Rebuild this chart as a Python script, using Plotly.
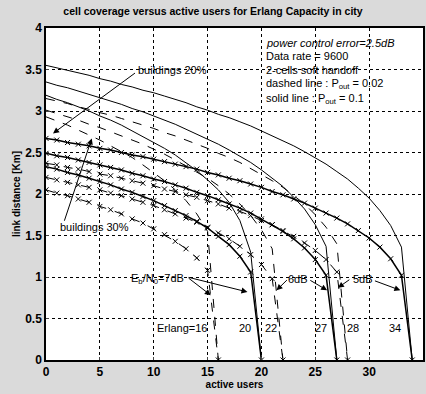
import plotly.graph_objects as go

# active users (x) for each curve family
users_34 = [0,1,2,3,4,5,6,7,8,9,10,11,12,13,14,15,16,17,18,19,20,21,22,23,24,25,26,27,28,29,30,31,32,33,34]
users_27 = [0,1,2,3,4,5,6,7,8,9,10,11,12,13,14,15,16,17,18,19,20,21,22,23,24,25,26,27]
users_20 = [0,1,2,3,4,5,6,7,8,9,10,11,12,13,14,15,16,17,18,19,20]
users_28 = [0,1,2,3,4,5,6,7,8,9,10,11,12,13,14,15,16,17,18,19,20,21,22,23,24,25,26,27,28]
users_22 = [0,1,2,3,4,5,6,7,8,9,10,11,12,13,14,15,16,17,18,19,20,21,22]
users_16 = [0,1,2,3,4,5,6,7,8,9,10,11,12,13,14,15,16]

# buildings 20% (no markers)
b20_solid_5dB = [3.55,3.52,3.49,3.46,3.43,3.39,3.36,3.32,3.29,3.25,3.22,3.18,3.14,3.10,3.05,3.01,2.96,2.92,2.87,2.82,2.76,2.70,2.64,2.58,2.51,2.44,2.36,2.27,2.18,2.07,1.95,1.80,1.62,1.36,0]
b20_solid_6dB = [3.35,3.31,3.28,3.24,3.20,3.16,3.12,3.08,3.03,2.99,2.94,2.89,2.84,2.78,2.72,2.66,2.60,2.53,2.46,2.38,2.29,2.19,2.09,1.96,1.82,1.63,1.37,0]
b20_solid_7dB = [3.19,3.14,3.10,3.05,3.00,2.94,2.89,2.83,2.76,2.70,2.63,2.55,2.47,2.38,2.28,2.17,2.05,1.90,1.68,1.30,0]
b20_dash_5dB = [3.15,3.12,3.09,3.05,3.02,2.98,2.95,2.91,2.87,2.83,2.79,2.74,2.70,2.65,2.60,2.55,2.49,2.44,2.38,2.31,2.24,2.16,2.08,1.98,1.88,1.75,1.60,1.40,0]
b20_dash_6dB = [3.01,2.97,2.93,2.89,2.84,2.80,2.75,2.70,2.65,2.60,2.54,2.48,2.41,2.34,2.27,2.19,2.10,2.00,1.88,1.74,1.57,1.34,0]
b20_dash_7dB = [2.93,2.88,2.83,2.77,2.71,2.65,2.58,2.51,2.44,2.35,2.26,2.16,2.05,1.92,1.76,1.55,0]

# buildings 30% (x markers)
b30_solid_5dB = [2.67,2.65,2.62,2.60,2.58,2.55,2.53,2.50,2.47,2.45,2.42,2.39,2.36,2.33,2.30,2.26,2.23,2.19,2.16,2.12,2.08,2.03,1.99,1.94,1.89,1.83,1.77,1.71,1.64,1.56,1.47,1.36,1.22,1.02,0]
b30_solid_6dB = [2.49,2.46,2.44,2.41,2.38,2.35,2.32,2.29,2.25,2.22,2.18,2.15,2.11,2.07,2.02,1.98,1.93,1.88,1.83,1.77,1.70,1.63,1.55,1.46,1.35,1.21,1.02,0]
b30_solid_7dB = [2.33,2.30,2.26,2.23,2.19,2.15,2.11,2.06,2.02,1.97,1.92,1.86,1.80,1.74,1.67,1.59,1.49,1.39,1.25,1.06,0]
b30_dash_5dB = [2.37,2.35,2.32,2.30,2.27,2.24,2.22,2.19,2.16,2.13,2.10,2.06,2.03,1.99,1.96,1.92,1.88,1.83,1.79,1.74,1.68,1.63,1.56,1.49,1.41,1.32,1.21,1.06,0]
b30_dash_6dB = [2.20,2.17,2.14,2.11,2.08,2.05,2.01,1.98,1.94,1.90,1.86,1.81,1.76,1.71,1.66,1.60,1.53,1.46,1.37,1.27,1.15,0.98,0]
b30_dash_7dB = [2.05,2.01,1.98,1.94,1.90,1.85,1.81,1.76,1.70,1.65,1.58,1.51,1.43,1.34,1.23,1.08,0]

x_ticks = [0, 5, 10, 15, 20, 25, 30, 35]
y_ticks = [0, 0.5, 1, 1.5, 2, 2.5, 3, 3.5, 4]

info_lines = ["<i>power control error=2.5dB</i>", "Data rate = 9600", "2-cells soft handoff",
              "dashed line : P<sub>out</sub> = 0.02", "solid line : P<sub>out</sub> = 0.1"]
info_y = [3.82, 3.66, 3.49, 3.33, 3.14]
erlang_labels = ["Erlang=16", "20", "22", "27", "28", "34"]
erlang_x = [12.6, 18.5, 20.9, 25.5, 28.5, 32.4]

fig = go.Figure()

def add(x, y, dash, markers, width):
    fig.add_trace(go.Scatter(
        x=x, y=y, mode="lines+markers" if markers else "lines",
        line=dict(color="black", width=width, dash="dash" if dash else "solid"),
        marker=dict(symbol="x-thin", size=5, line=dict(color="black", width=1)),
        showlegend=False, hoverinfo="skip"))

add(users_34, b20_solid_5dB, False, False, 1)
add(users_27, b20_solid_6dB, False, False, 1)
add(users_20, b20_solid_7dB, False, False, 1)
add(users_28, b20_dash_5dB, True, False, 1)
add(users_22, b20_dash_6dB, True, False, 1)
add(users_16, b20_dash_7dB, True, False, 1)
add(users_34, b30_solid_5dB, False, True, 1.5)
add(users_27, b30_solid_6dB, False, True, 1.5)
add(users_20, b30_solid_7dB, False, True, 1.5)
add(users_28, b30_dash_5dB, True, True, 1)
add(users_22, b30_dash_6dB, True, True, 1)
add(users_16, b30_dash_7dB, True, True, 1)

txt_font = dict(family="Liberation Sans, Arial", size=11, color="black")
for t, yy in zip(info_lines, info_y):
    fig.add_annotation(x=20.2, y=yy, text=t, showarrow=False, xanchor="left", yanchor="middle", font=txt_font)
for t, xx in zip(erlang_labels, erlang_x):
    fig.add_annotation(x=xx, y=0.39, text=t, showarrow=False, xanchor="center", yanchor="middle", font=txt_font)

fig.add_annotation(x=8.4, y=3.49, text="buildings 20%", showarrow=False, xanchor="left", font=txt_font)
fig.add_annotation(x=1.1, y=1.6, text="buildings 30%", showarrow=False, xanchor="left", font=txt_font)
fig.add_annotation(x=7.75, y=0.98, text="E<sub>b</sub>/N<sub>0</sub>=7dB", showarrow=False, xanchor="left", font=txt_font)
fig.add_annotation(x=23.4, y=0.98, text="6dB", showarrow=False, xanchor="center", font=txt_font)
fig.add_annotation(x=29.4, y=0.98, text="5dB", showarrow=False, xanchor="center", font=txt_font)

arrows = [
    ((8.4, 3.47), (0.65, 2.73)),
    ((1.66, 1.66), (4.25, 2.67)),
    ((13.1, 1.0), (15.3, 0.78)),
    ((13.1, 1.0), (18.7, 0.82)),
    ((22.5, 0.98), (21.4, 0.84)),
    ((24.4, 0.97), (26.1, 0.84)),
    ((28.3, 0.98), (27.1, 0.87)),
    ((30.4, 0.96), (32.9, 0.84)),
]
for (tx, ty), (hx, hy) in arrows:
    fig.add_annotation(x=hx, y=hy, ax=tx, ay=ty, xref="x", yref="y", axref="x", ayref="y",
                       text="", showarrow=True, arrowhead=2, arrowsize=1.2, arrowwidth=1, arrowcolor="black")

axis_font = dict(family="Liberation Sans, Arial", size=12, color="black")
fig.update_layout(
    width=426, height=394,
    margin=dict(l=46, r=1, t=28, b=34),
    paper_bgcolor="#dadada", plot_bgcolor="white",
    title=dict(text="<b>cell coverage versus active users for Erlang Capacity in city</b>",
               x=0.5, xanchor="center", y=0.972, yanchor="middle",
               font=dict(family="Liberation Sans, Arial", size=10.5, color="black")),
    font=axis_font,
)
fig.update_xaxes(range=[0, 35], tickvals=x_ticks, ticktext=[f"<b>{v}</b>" for v in x_ticks],
                 showgrid=True, gridcolor="black", griddash="dot", gridwidth=1,
                 showline=True, linecolor="black", linewidth=1.5, mirror=True,
                 ticks="inside", ticklen=3, zeroline=False,
                 title=dict(text="<b>active users</b>", font=dict(size=10), standoff=1))
fig.update_yaxes(range=[0, 4], tickvals=y_ticks, ticktext=[f"<b>{v:g}</b>" for v in y_ticks],
                 showgrid=True, gridcolor="black", griddash="dot", gridwidth=1,
                 showline=True, linecolor="black", linewidth=1.5, mirror=True,
                 ticks="inside", ticklen=3, zeroline=False,
                 title=dict(text="<b>link distance [Km]</b>", font=dict(size=10), standoff=3))

fig.write_html("out.html")
